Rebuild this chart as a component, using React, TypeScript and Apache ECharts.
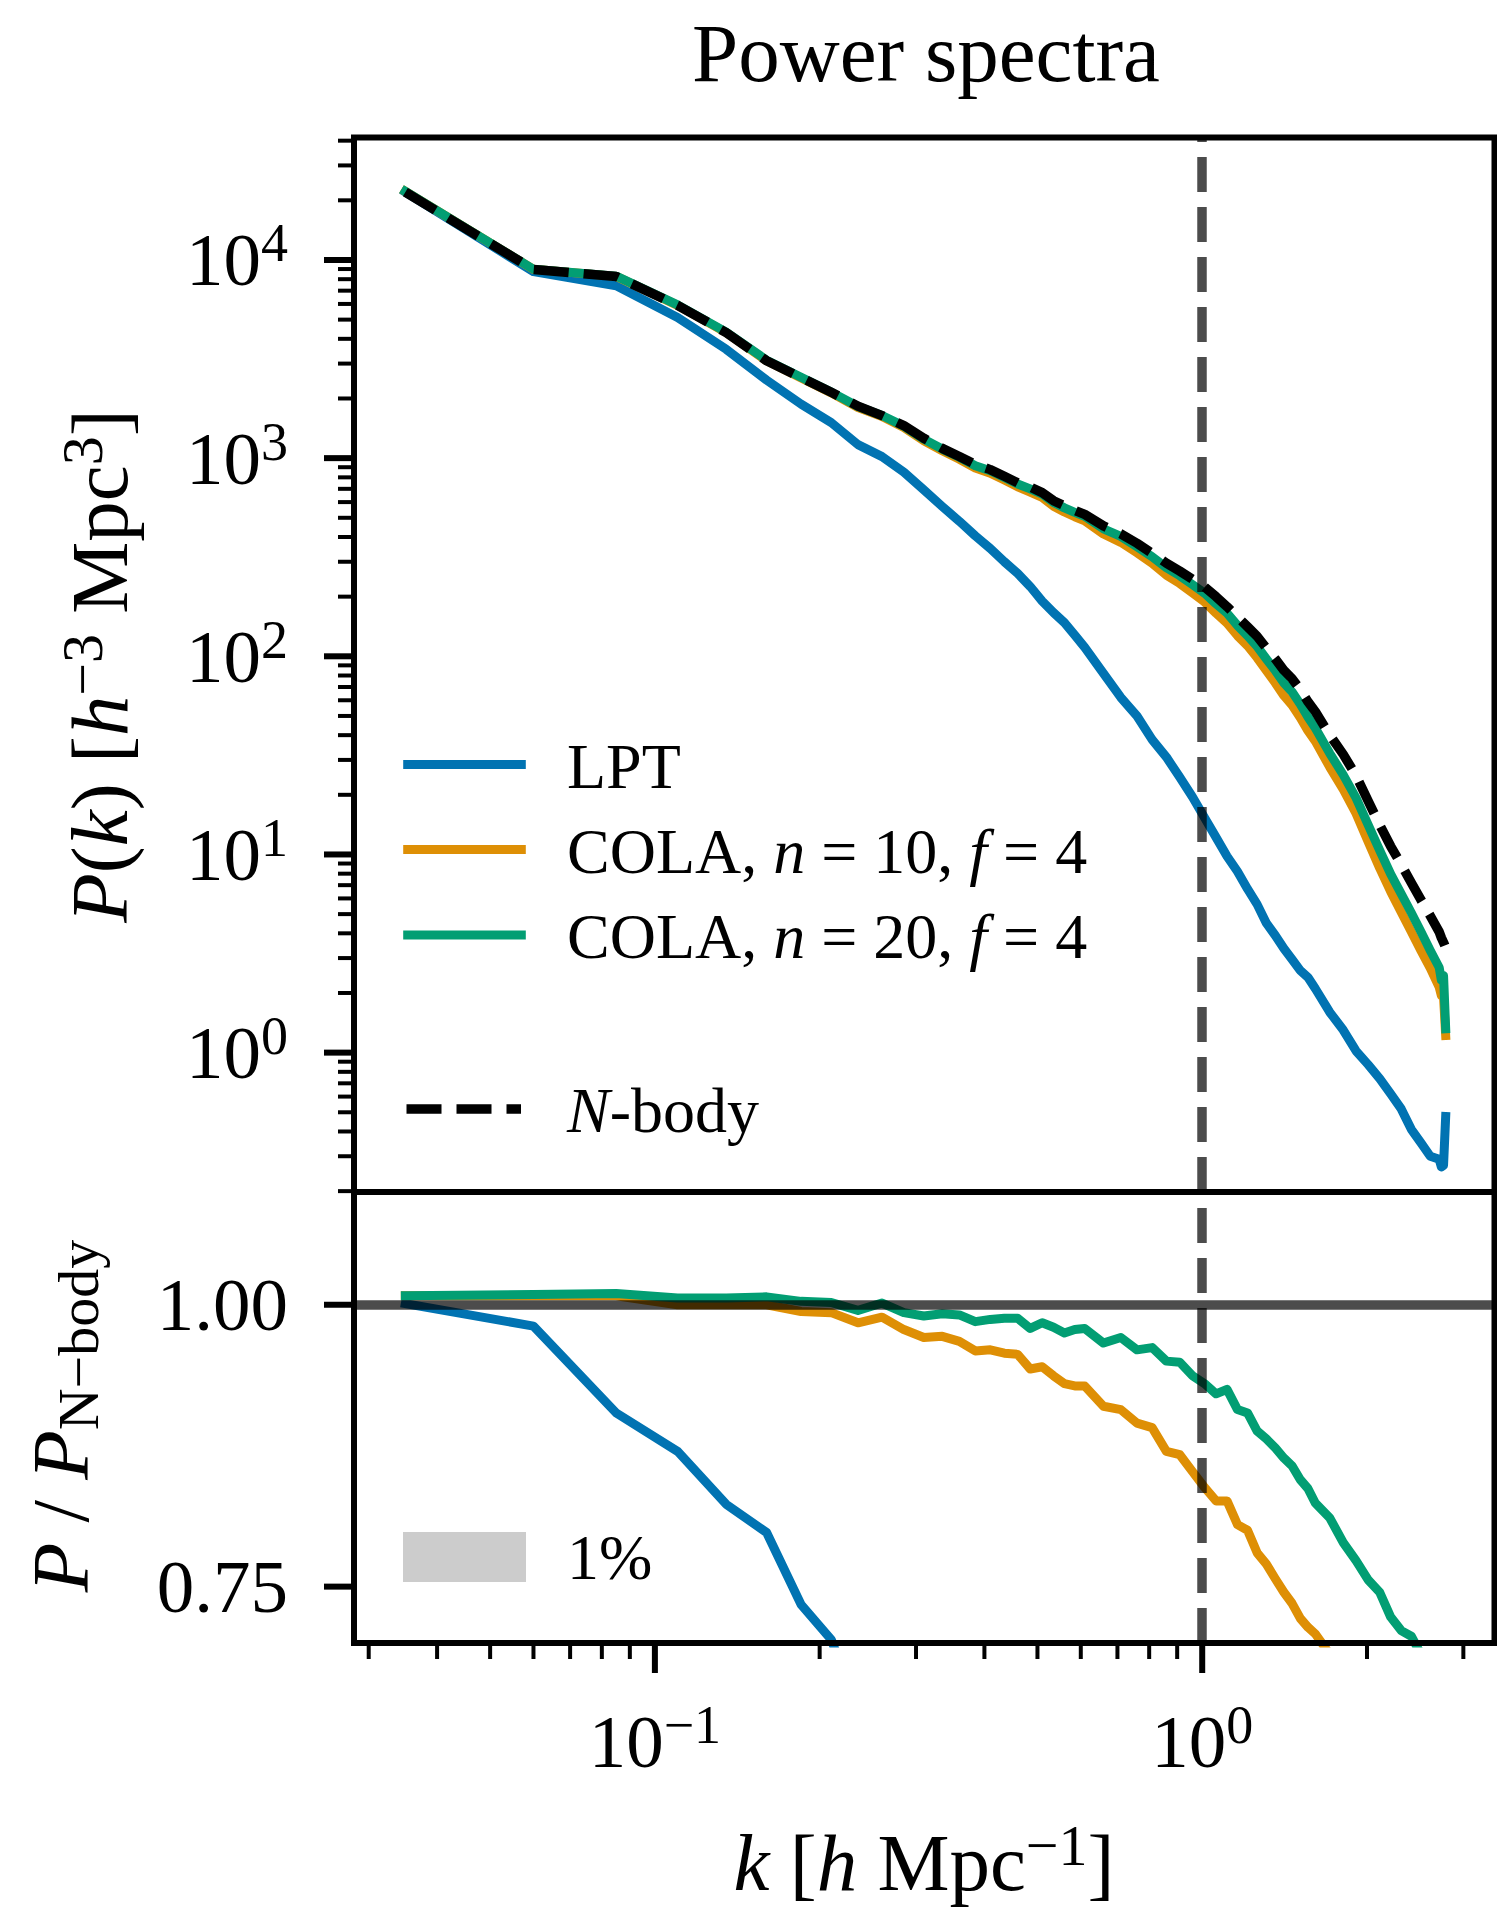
import React, { useEffect, useRef } from "react";
import * as echarts from "echarts";

// ---------------- data ----------------
const K = [
  0.035, 0.06, 0.085, 0.11, 0.135, 0.16, 0.185, 0.21, 0.235, 0.26, 0.285, 0.31, 0.335, 0.36, 0.385, 0.41,
  0.435, 0.46, 0.485, 0.51, 0.535, 0.56, 0.585, 0.61, 0.66, 0.71, 0.76, 0.81, 0.86, 0.91, 0.96, 1.01,
  1.06, 1.11, 1.16, 1.21, 1.26, 1.31, 1.36, 1.41, 1.46, 1.51, 1.56, 1.61, 1.71, 1.81, 1.91, 2.01,
  2.11, 2.21, 2.31, 2.41, 2.51, 2.61, 2.71, 2.735, 2.76, 2.785,
];

const P_NBODY = [
  22000, 8950, 8250, 5900, 4300, 3100, 2550, 2150, 1830, 1640, 1460, 1260, 1120, 1020, 930, 875,
  810, 750, 715, 670, 610, 575, 545, 520, 455, 415, 372, 331, 295, 269, 245, 224,
  200, 178, 158, 141, 126, 110, 97, 85, 77, 68, 59, 52.5, 40, 32, 25, 18.6,
  14.1, 11.0, 8.9, 7.2, 5.9, 4.9, 4.07, 3.8, 3.6, 3.39,
];

const P_LPT = [
  22020, 8730, 7410, 5130, 3540, 2474, 1872, 1511, 1170, 1018, 850, 691, 570, 480, 405, 350,
  300, 262, 225, 190, 166, 148, 128, 111, 82, 62, 50, 38, 31, 24.5, 19.5, 15.3,
  12.2, 9.8, 8.2, 6.7, 5.6, 4.5, 3.9, 3.35, 2.95, 2.6, 2.4, 2.1, 1.6, 1.3, 1.02, 0.87,
  0.74, 0.62, 0.52, 0.41, 0.35, 0.3, 0.29, 0.265, 0.27, 0.476,
];

const P_COLA10 = [
  22180, 8970, 8266, 5900, 4300, 3100, 2535, 2135, 1801, 1622, 1428, 1223, 1089, 987, 892, 840,
  775, 717, 674, 633, 572, 535, 506, 483, 414, 376, 333, 295, 257, 233, 209, 188,
  165, 147, 127, 113, 98.3, 84.7, 73.4, 63.3, 56.6, 49.1, 42.1, 37.2, 27.6, 21.3, 16.1, 11.6,
  8.53, 6.49, 5.12, 4.07, 3.27, 2.67, 2.14, 1.94, 1.91, 1.22,
];

const P_COLA20 = [
  22180, 8980, 8282, 5935, 4326, 3122, 2558, 2154, 1821, 1642, 1450, 1247, 1111, 1011, 916, 864,
  800, 741, 700, 659, 598, 561, 533, 509, 440, 403, 357, 318, 280, 255, 230, 208,
  184, 165, 143, 127, 112, 96.9, 84.7, 73.4, 66.0, 57.5, 49.4, 43.3, 32.4, 25.2, 19.3, 14.1,
  10.5, 7.95, 6.33, 5.08, 4.07, 3.28, 2.69, 2.32, 2.45, 1.32,
];

const R_LPT = [
  1.001, 0.981, 0.904, 0.87, 0.823, 0.798, 0.734, 0.703, 0.64, 0.62, 0.58, 0.55, 0.51, 0.47, 0.435, 0.4,
  0.37, 0.35, 0.315, 0.284, 0.272, 0.257, 0.235, 0.213, 0.18, 0.149, 0.134, 0.115, 0.105, 0.091, 0.08, 0.068,
  0.061, 0.055, 0.052, 0.048, 0.044, 0.041, 0.04, 0.039, 0.038, 0.038, 0.041, 0.04, 0.04, 0.041, 0.041, 0.047,
  0.052, 0.056, 0.058, 0.057, 0.059, 0.061, 0.071, 0.07, 0.075, 0.14,
];

const R_COLA10 = [
  1.008, 1.008, 1.008, 1.0, 1.0, 1.0, 0.994, 0.993, 0.984, 0.989, 0.978, 0.971, 0.972, 0.9675, 0.959, 0.96,
  0.957, 0.956, 0.943, 0.945, 0.937, 0.93, 0.928, 0.928, 0.91, 0.907, 0.895, 0.891, 0.87, 0.867, 0.852, 0.838,
  0.826, 0.826, 0.805, 0.8, 0.78, 0.77, 0.757, 0.745, 0.735, 0.722, 0.714, 0.708, 0.69, 0.665, 0.645, 0.625,
  0.605, 0.59, 0.575, 0.565, 0.555, 0.545, 0.525, 0.51, 0.53, 0.36,
];

const R_COLA20 = [
  1.008, 1.009, 1.01, 1.006, 1.006, 1.007, 1.003, 1.002, 0.995, 1.0015, 0.993, 0.99, 0.992, 0.991, 0.985, 0.987,
  0.988, 0.988, 0.979, 0.984, 0.98, 0.975, 0.978, 0.979, 0.966, 0.971, 0.96, 0.962, 0.95, 0.949, 0.937, 0.93,
  0.921, 0.925, 0.907, 0.904, 0.888, 0.881, 0.873, 0.864, 0.857, 0.845, 0.837, 0.824, 0.811, 0.789, 0.773, 0.756,
  0.745, 0.723, 0.711, 0.706, 0.69, 0.67, 0.66, 0.61, 0.68, 0.39,
];

const SERIES_NAMES = ["LPT", "COLA, n = 10, f = 4", "COLA, n = 20, f = 4", "N-body"];

// axes / ticks
const X_MIN = 0.0282;
const X_MAX = 3.42;
const Y_TOP_MIN = 0.198;
const Y_TOP_MAX = 41500;
const Y_BOT_MIN = 0.7;
const Y_BOT_MAX = 1.1;
const K_REF = 1;
const RATIO_REF = 1;

const X_MAJOR = [0.1, 1];
const X_MAJOR_EXP = ["\u22121", "0"];
const X_MINOR = [0.03, 0.04, 0.05, 0.06, 0.07, 0.08, 0.09, 0.2, 0.3, 0.4, 0.5, 0.6, 0.7, 0.8, 0.9, 2, 3];
const Y_TOP_MAJOR = [1, 10, 100, 1000, 10000];
const Y_TOP_EXP = ["0", "1", "2", "3", "4"];
const Y_TOP_MINOR = [
  0.2, 0.3, 0.4, 0.5, 0.6, 0.7, 0.8, 0.9, 2, 3, 4, 5, 6, 7, 8, 9, 20, 30, 40, 50, 60, 70, 80, 90,
  200, 300, 400, 500, 600, 700, 800, 900, 2000, 3000, 4000, 5000, 6000, 7000, 8000, 9000, 20000, 30000, 40000,
];
const Y_BOT_MAJOR = [0.75, 1.0];
const Y_BOT_LABELS = ["0.75", "1.00"];

// ---------------- styles ----------------
const F = "'Liberation Serif', 'Times New Roman', serif";
const BLUE = "#0173b2";
const ORANGE = "#de8f05";
const GREEN = "#029e73";
const REF = "rgba(0,0,0,0.7)";
const LW = 9;
const LW_DASH = 9.5;
const DASH = [35, 15];
const SPINE = 6;
const MAJOR_LEN = 30;
const MINOR_LEN = 16;
const MAJOR_W = 6;
const MINOR_W = 4;
const LABEL_PAD = 36;

function rich(fs: number) {
  const ss = Math.round(fs * 0.72);
  const lh = fs + 12;
  const supShift = 0.2755 * fs;
  const subShift = 0.3945 * fs;
  return {
    m: { fontFamily: F, fontSize: fs, lineHeight: lh, verticalAlign: "middle", fill: "#000" },
    i: { fontFamily: F, fontSize: fs, fontStyle: "italic", lineHeight: lh, verticalAlign: "middle", fill: "#000" },
    s: { fontFamily: F, fontSize: ss, lineHeight: lh - 2 * supShift, verticalAlign: "top", fill: "#000" },
    b: { fontFamily: F, fontSize: ss, lineHeight: lh - 2 * subShift, verticalAlign: "bottom", fill: "#000" },
  };
}

const RICH_TICK = rich(75);
const RICH_LABEL = rich(81);
const RICH_LEG = rich(64);

const hidden = {
  axisLine: { show: false },
  axisTick: { show: false },
  axisLabel: { show: false },
  splitLine: { show: false },
  minorTick: { show: false },
  minorSplitLine: { show: false },
};

function tick(x1: number, y1: number, x2: number, y2: number, w: number) {
  return { type: "line", shape: { x1, y1, x2, y2 }, style: { stroke: "#000", lineWidth: w } };
}

function lineSeries(name: string, xi: number, ys: number[], color: string, dashed: boolean, z: number) {
  return {
    name,
    type: "line",
    xAxisIndex: xi,
    yAxisIndex: xi,
    data: K.map((k, i) => [k, ys[i]]),
    symbol: "none",
    showSymbol: false,
    clip: true,
    z,
    lineStyle: {
      color,
      width: dashed ? LW_DASH : LW,
      type: dashed ? DASH : "solid",
      cap: dashed ? "butt" : "square",
      join: "round",
    },
  };
}

function buildOption() {
  const topAxes = (params: any, api: any) => {
    const cs = params.coordSys;
    const L = cs.x, T = cs.y, W = cs.width, H = cs.height;
    const ch: any[] = [];
    for (const v of Y_TOP_MINOR) {
      const y = api.coord([1, v])[1];
      if (y >= T - 1 && y <= T + H + 1) ch.push(tick(L - MINOR_LEN, y, L, y, MINOR_W));
    }
    Y_TOP_MAJOR.forEach((v, idx) => {
      const y = api.coord([1, v])[1];
      ch.push(tick(L - MAJOR_LEN, y, L, y, MAJOR_W));
      ch.push({
        type: "text",
        x: L - MAJOR_LEN - LABEL_PAD,
        y,
        style: { text: `{m|10}{s|${Y_TOP_EXP[idx]}}`, rich: RICH_TICK, align: "right", verticalAlign: "middle" },
      });
    });
    ch.push({
      type: "rect",
      shape: { x: L, y: T, width: W, height: H },
      style: { fill: "none", stroke: "#000", lineWidth: SPINE },
    });
    return { type: "group", children: ch };
  };

  const botAxes = (params: any, api: any) => {
    const cs = params.coordSys;
    const L = cs.x, T = cs.y, W = cs.width, H = cs.height;
    const B = T + H;
    const ch: any[] = [];
    Y_BOT_MAJOR.forEach((v, idx) => {
      const y = api.coord([1, v])[1];
      ch.push(tick(L - MAJOR_LEN, y, L, y, MAJOR_W));
      ch.push({
        type: "text",
        x: L - MAJOR_LEN - LABEL_PAD,
        y,
        style: { text: `{m|${Y_BOT_LABELS[idx]}}`, rich: RICH_TICK, align: "right", verticalAlign: "middle" },
      });
    });
    for (const v of X_MINOR) {
      const x = api.coord([v, 1])[0];
      ch.push(tick(x, B, x, B + MINOR_LEN, MINOR_W));
    }
    X_MAJOR.forEach((v, idx) => {
      const x = api.coord([v, 1])[0];
      ch.push(tick(x, B, x, B + MAJOR_LEN, MAJOR_W));
      ch.push({
        type: "text",
        x,
        y: 1741,
        style: { text: `{m|10}{s|${X_MAJOR_EXP[idx]}}`, rich: RICH_TICK, align: "center", verticalAlign: "middle" },
      });
    });
    ch.push({
      type: "rect",
      shape: { x: L, y: T, width: W, height: H },
      style: { fill: "none", stroke: "#000", lineWidth: SPINE },
    });
    return { type: "group", children: ch };
  };

  const legLine = (y: number, color: string) => ({
    type: "line",
    shape: { x1: 407.7, y1: y, x2: 521.3, y2: y },
    style: { stroke: color, lineWidth: LW, lineCap: "square" },
    z: 20,
  });
  const legText = (y: number, text: string) => ({
    type: "text",
    x: 567,
    y,
    style: { text, rich: RICH_LEG, align: "left", verticalAlign: "middle" },
    z: 20,
  });

  return {
    animation: false,
    backgroundColor: "#ffffff",
    grid: [
      { left: 354, right: 2.5, top: 137.5, height: 1054.5, containLabel: false },
      { left: 354, right: 2.5, top: 1192, height: 451, containLabel: false },
    ],
    xAxis: [
      { type: "log", logBase: 10, gridIndex: 0, min: X_MIN, max: X_MAX, ...hidden },
      { type: "log", logBase: 10, gridIndex: 1, min: X_MIN, max: X_MAX, ...hidden },
    ],
    yAxis: [
      { type: "log", logBase: 10, gridIndex: 0, min: Y_TOP_MIN, max: Y_TOP_MAX, ...hidden },
      { type: "value", gridIndex: 1, min: Y_BOT_MIN, max: Y_BOT_MAX, ...hidden },
    ],
    series: [
      lineSeries(SERIES_NAMES[0], 0, P_LPT, BLUE, false, 2),
      lineSeries(SERIES_NAMES[1], 0, P_COLA10, ORANGE, false, 3),
      lineSeries(SERIES_NAMES[2], 0, P_COLA20, GREEN, false, 4),
      lineSeries(SERIES_NAMES[3], 0, P_NBODY, "#000000", true, 5),
      {
        name: "ref-top",
        type: "line",
        xAxisIndex: 0,
        yAxisIndex: 0,
        data: [],
        z: 6,
        markLine: {
          silent: true,
          symbol: ["none", "none"],
          label: { show: false },
          lineStyle: { color: REF, width: LW_DASH, type: DASH, cap: "butt" },
          data: [{ xAxis: K_REF }],
        },
      },
      lineSeries("LPT ratio", 1, R_LPT, BLUE, false, 2),
      lineSeries("COLA10 ratio", 1, R_COLA10, ORANGE, false, 3),
      lineSeries("COLA20 ratio", 1, R_COLA20, GREEN, false, 4),
      {
        name: "ref-bottom",
        type: "line",
        xAxisIndex: 1,
        yAxisIndex: 1,
        data: [],
        z: 6,
        markLine: {
          silent: true,
          symbol: ["none", "none"],
          label: { show: false },
          data: [
            { xAxis: K_REF, lineStyle: { color: REF, width: LW_DASH, type: DASH, cap: "butt" } },
            { yAxis: RATIO_REF, lineStyle: { color: REF, width: LW_DASH, type: "solid", cap: "butt" } },
          ],
        },
      },
      {
        name: "axes-top",
        type: "custom",
        xAxisIndex: 0,
        yAxisIndex: 0,
        z: 10,
        silent: true,
        clip: false,
        data: [[1, 1]],
        renderItem: topAxes,
      },
      {
        name: "axes-bottom",
        type: "custom",
        xAxisIndex: 1,
        yAxisIndex: 1,
        z: 10,
        silent: true,
        clip: false,
        data: [[1, 1]],
        renderItem: botAxes,
      },
    ],
    graphic: [
      {
        type: "text",
        x: 926,
        y: 53,
        style: { text: "Power spectra", fontFamily: F, fontSize: 83, fill: "#000", align: "center", verticalAlign: "middle" },
      },
      {
        type: "text",
        x: 100,
        y: 666,
        rotation: Math.PI / 2,
        style: {
          text: "{i|P}{m|(}{i|k}{m|) [}{i|h}{s|\u22123}{m| Mpc}{s|3}{m|]}",
          rich: RICH_LABEL,
          align: "center",
          verticalAlign: "middle",
        },
      },
      {
        type: "text",
        x: 61,
        y: 1416,
        rotation: Math.PI / 2,
        style: {
          text: "{i|P}{m| / }{i|P}{b|N\u2212body}",
          rich: RICH_LABEL,
          align: "center",
          verticalAlign: "middle",
        },
      },
      {
        type: "text",
        x: 924,
        y: 1863,
        style: {
          text: "{i|k}{m| [}{i|h}{m| Mpc}{s|\u22121}{m|]}",
          rich: RICH_LABEL,
          align: "center",
          verticalAlign: "middle",
        },
      },
      legLine(764.6, BLUE),
      legText(766, "{m|LPT}"),
      legLine(849.5, ORANGE),
      legText(851, "{m|COLA, }{i|n}{m| = 10, }{i|f}{m| = 4}"),
      legLine(934.9, GREEN),
      legText(936, "{m|COLA, }{i|n}{m| = 20, }{i|f}{m| = 4}"),
      {
        type: "line",
        shape: { x1: 406.5, y1: 1109, x2: 521, y2: 1109 },
        style: { stroke: "#000", lineWidth: LW_DASH, lineDash: DASH, lineCap: "butt" },
        z: 20,
      },
      legText(1110, "{i|N}{m|-body}"),
      {
        type: "rect",
        shape: { x: 403, y: 1532, width: 123, height: 50 },
        style: { fill: "#cccccc" },
        z: 20,
      },
      legText(1557, "{m|1%}"),
    ],
  };
}

export default function App() {
  const ref = useRef<HTMLDivElement>(null);
  useEffect(() => {
    if (!ref.current) return;
    const chart = echarts.init(ref.current, null, { renderer: "svg" });
    chart.setOption(buildOption() as any);
    return () => {
      chart.dispose();
    };
  }, []);
  return (
    <div
      ref={ref}
      style={{ position: "absolute", left: 0, top: 0, width: 1497, height: 1908, background: "#fff" }}
    />
  );
}
